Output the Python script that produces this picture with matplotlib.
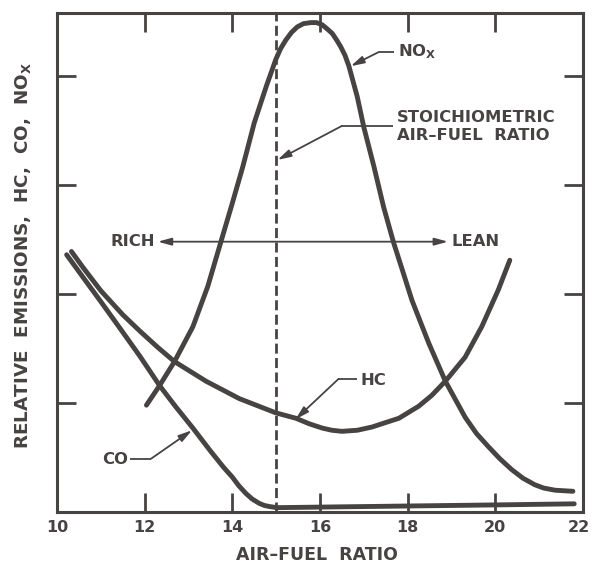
import matplotlib
matplotlib.use("Agg")
import matplotlib.pyplot as plt
from matplotlib.patches import ArrowStyle
from matplotlib.transforms import ScaledTranslation

# ---------------- data ----------------
nox_x = [12.04, 12.34, 12.68, 13.10, 13.44, 13.74, 13.99, 14.24, 14.50, 14.77,
         14.99, 15.10, 15.22, 15.35, 15.48, 15.62, 15.79, 15.92, 16.05, 16.17,
         16.28, 16.38, 16.47, 16.57, 16.66, 16.85, 17.00, 17.23, 17.45, 17.68,
         17.76, 18.10, 18.48, 18.86, 19.31, 19.57, 19.84, 20.10, 20.37, 20.63,
         20.90, 21.10, 21.36, 21.77]
nox_y = [0.98, 1.16, 1.38, 1.70, 2.07, 2.48, 2.82, 3.17, 3.57, 3.90,
         4.15, 4.25, 4.33, 4.40, 4.45, 4.48, 4.49, 4.49, 4.47, 4.43,
         4.39, 4.33, 4.27, 4.19, 4.09, 3.81, 3.53, 3.17, 2.80, 2.47,
         2.37, 1.94, 1.55, 1.20, 0.87, 0.72, 0.60, 0.49, 0.39, 0.31,
         0.25, 0.22, 0.20, 0.19]

hc_x = [10.33, 10.60, 11.00, 11.50, 11.89, 12.30, 12.68, 13.40, 14.16, 14.99,
        15.45, 15.75, 16.05, 16.27, 16.50, 16.85, 17.19, 17.34, 17.80, 18.25,
        18.55, 18.86, 19.31, 19.69, 20.07, 20.33]
hc_y = [2.39, 2.24, 2.03, 1.81, 1.66, 1.51, 1.38, 1.20, 1.04, 0.91,
        0.86, 0.81, 0.77, 0.75, 0.74, 0.75, 0.78, 0.80, 0.86, 0.97,
        1.07, 1.20, 1.42, 1.70, 2.04, 2.31]

co_x = [10.22, 10.60, 11.00, 11.50, 11.89, 12.34, 12.70, 13.10, 13.50, 13.80,
        14.00, 14.15, 14.31, 14.45, 14.61, 14.73, 14.85, 15.02, 16.00, 18.00,
        20.00, 21.80]
co_y = [2.36, 2.15, 1.93, 1.65, 1.43, 1.16, 0.97, 0.77, 0.56, 0.41,
        0.32, 0.24, 0.17, 0.12, 0.08, 0.06, 0.05, 0.04, 0.045, 0.055,
        0.065, 0.075]

stoich_ratio = 15.0
x_ticks = [10, 12, 14, 16, 18, 20, 22]
y_ticks = [1, 2, 3, 4]

INK = "#474343"
FONT = "DejaVu Sans"

plt.rcParams["font.family"] = [FONT]
plt.rcParams["mathtext.fontset"] = "dejavusans"

fig = plt.figure(figsize=(5.92, 5.65), dpi=100)
ax = fig.add_axes([57 / 592, 1 - 512 / 565, (583 - 57) / 592, (512 - 13) / 565])
ax.set_xlim(10, 22)
ax.set_ylim(0, (512 - 13) / 109)

for s in ax.spines.values():
    s.set_linewidth(2.2)
    s.set_color(INK)

ax.set_xticks(x_ticks)
ax.set_xticklabels([str(t) for t in x_ticks])
ax.set_yticks(y_ticks)
ax.tick_params(axis="both", direction="in", length=14, width=2.0, color=INK,
               top=True, right=True, labelleft=False, labelcolor=INK,
               labelsize=11.5, pad=6)
for lab in ax.get_xticklabels():
    lab.set_fontweight("bold")
last = ax.get_xticklabels()[-1]
last.set_transform(last.get_transform() + ScaledTranslation(-4 / 100, 0, fig.dpi_scale_trans))

curve_kw = dict(color=INK, lw=3.5, solid_capstyle="round", solid_joinstyle="round", zorder=3)
ax.plot(nox_x, nox_y, **curve_kw)
ax.plot(hc_x, hc_y, **curve_kw)
ax.plot(co_x, co_y, **curve_kw)

# stoichiometric dashed line
ax.axvline(stoich_ratio, color=INK, lw=2.0, dashes=(3.6, 1.6), zorder=2)

# RICH <-> LEAN arrow
dbl = ArrowStyle("<|-|>", head_length=0.8, head_width=0.22)
ax.annotate("", xy=(12.30, 2.48), xytext=(18.92, 2.48),
            arrowprops=dict(arrowstyle=dbl, mutation_scale=10, lw=1.3, color=INK,
                            shrinkA=0, shrinkB=0))
txt_kw = dict(color=INK, fontsize=11.8, fontweight="bold", va="center")
ax.text(12.23, 2.48, "RICH", ha="right", **txt_kw)
ax.text(18.99, 2.48, "LEAN", ha="left", **txt_kw)

# leader annotations
head = ArrowStyle("-|>", head_length=0.8, head_width=0.22)


def leader(x0, x1, y, tip):
    ax.plot([x0, x1], [y, y], color=INK, lw=1.3, solid_capstyle="butt", zorder=2)
    ax.annotate("", xy=tip, xytext=(x0 if tip[0] < x0 else x1, y),
                arrowprops=dict(arrowstyle=head, mutation_scale=10, lw=1.3,
                                color=INK, shrinkA=0, shrinkB=0))


leader(17.34, 17.68, 4.22, (16.70, 4.09))
ax.text(17.77, 4.22, r"NO$_\mathbf{X}$", ha="left", **txt_kw)

leader(16.49, 17.67, 3.54, (15.03, 3.23))
ax.text(17.75, 3.62, "STOICHIOMETRIC", ha="left", **txt_kw)
ax.text(17.75, 3.45, "AIR\u2013FUEL  RATIO", ha="left", **txt_kw)

leader(16.42, 16.84, 1.22, (15.44, 0.85))
ax.text(16.93, 1.21, "HC", ha="left", **txt_kw)

leader(11.66, 12.15, 0.49, (13.08, 0.75))
ax.text(11.62, 0.48, "CO", ha="right", **txt_kw)

# axis titles
fig.text(317 / 592, 1 - 555 / 565, "AIR\u2013FUEL  RATIO", ha="center", va="center",
         color=INK, fontsize=12.5, fontweight="bold")
fig.text(23 / 592, 1 - 256 / 565, r"RELATIVE  EMISSIONS,  HC,  CO,  NO$_\mathbf{X}$",
         rotation=90, ha="center", va="center", color=INK, fontsize=13.2,
         fontweight="bold")

fig.savefig("out.png", dpi=100, facecolor="white")
